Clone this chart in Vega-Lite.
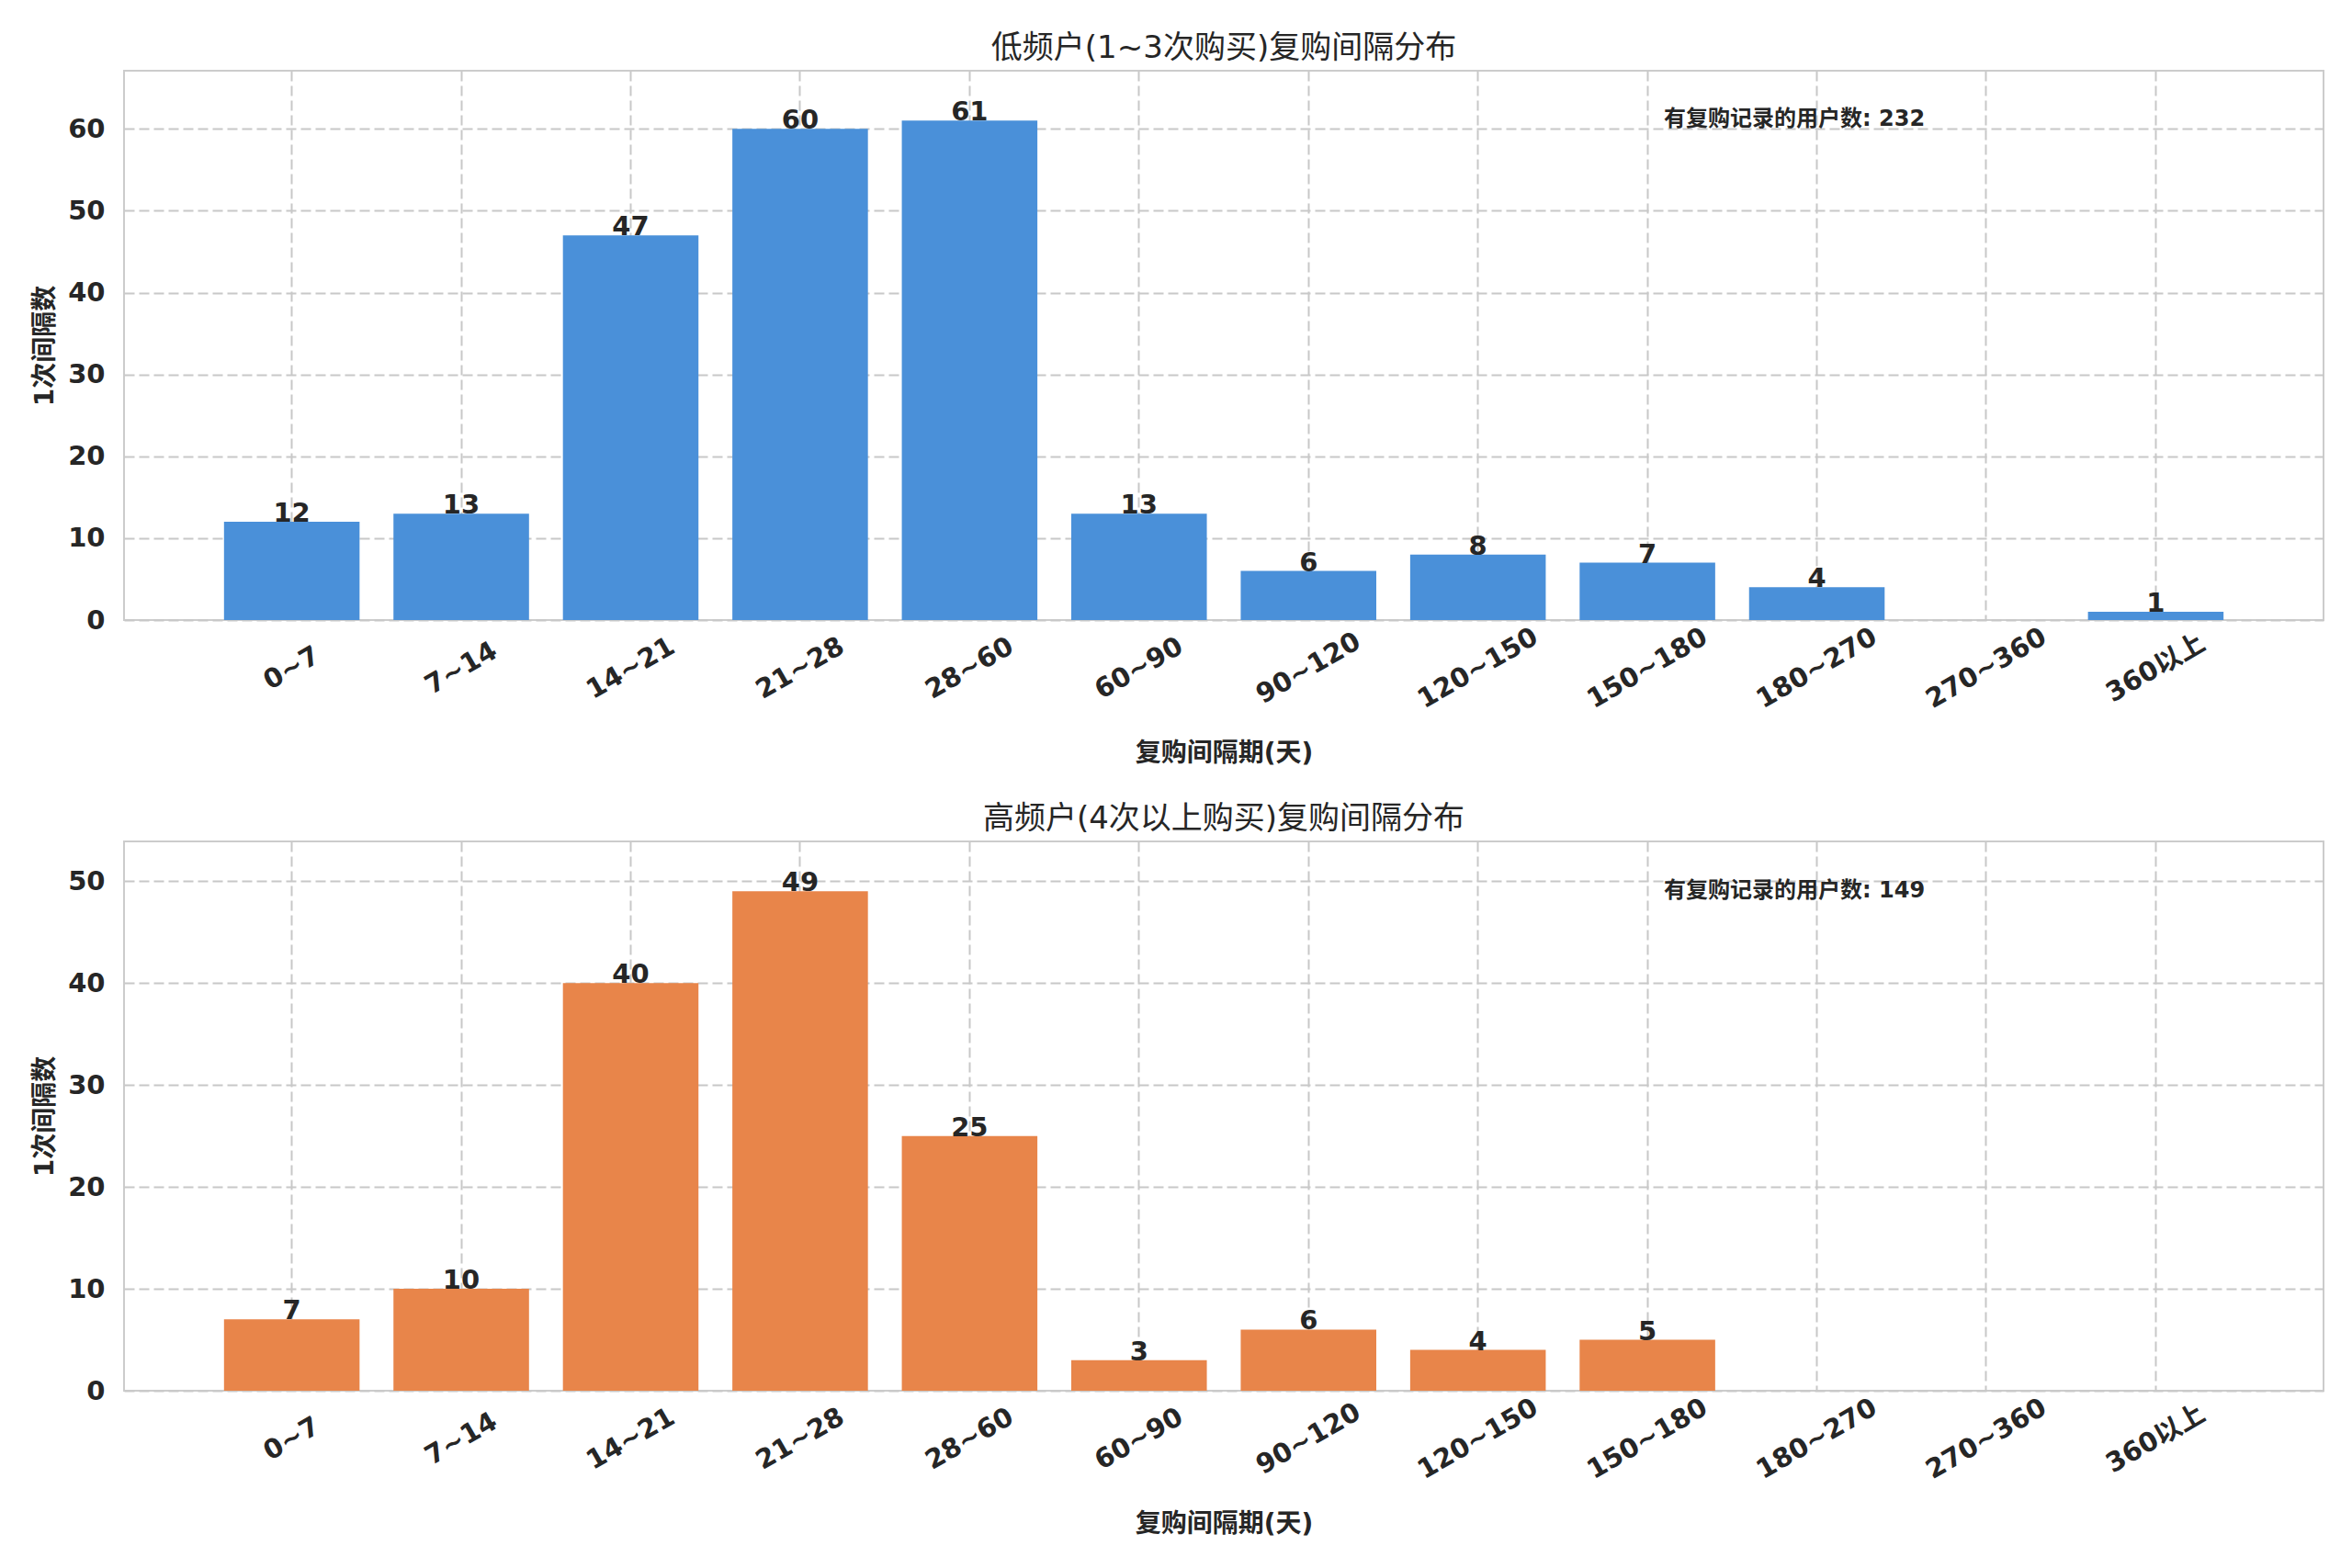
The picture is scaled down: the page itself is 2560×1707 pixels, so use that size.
{
  "$schema": "https://vega.github.io/schema/vega-lite/v6.json",
  "background": "#ffffff",
  "padding": {"left": 34, "top": 35, "right": 0, "bottom": 0},
  "bounds": "flush",
  "spacing": 241,
  "config": {
    "font": "DejaVu Sans, Noto Sans CJK SC",
    "view": {"stroke": "#cccccc", "strokeWidth": 2},
    "title": {"fontSize": 34, "fontWeight": "normal", "color": "#262626", "offset": 7, "anchor": "middle"},
    "axis": {
      "labelFontSize": 29, "labelFontWeight": "bold", "labelColor": "#262626",
      "titleFontSize": 28, "titleFontWeight": "bold", "titleColor": "#262626",
      "domain": false, "ticks": false, "tickSize": 0,
      "grid": true, "gridColor": "#c8c8c8", "gridDash": [11, 5], "gridWidth": 2
    },
    "axisX": {
      "labelAngle": -30, "labelAlign": "center", "labelBaseline": "middle", "labelPadding": 52,
      "bandPosition": 0.5, "titleY": 145, "titleBaseline": "middle"
    },
    "axisY": {
      "labelPadding": 21, "titleX": -86, "titleY": 299, "titleAngle": -90,
      "titleAlign": "center", "titleBaseline": "middle"
    }
  },
  "datasets": {
    "low": [
      {"bin": "0~7", "count": 12},
      {"bin": "7~14", "count": 13},
      {"bin": "14~21", "count": 47},
      {"bin": "21~28", "count": 60},
      {"bin": "28~60", "count": 61},
      {"bin": "60~90", "count": 13},
      {"bin": "90~120", "count": 6},
      {"bin": "120~150", "count": 8},
      {"bin": "150~180", "count": 7},
      {"bin": "180~270", "count": 4},
      {"bin": "270~360", "count": 0},
      {"bin": "360以上", "count": 1}
    ],
    "high": [
      {"bin": "0~7", "count": 7},
      {"bin": "7~14", "count": 10},
      {"bin": "14~21", "count": 40},
      {"bin": "21~28", "count": 49},
      {"bin": "28~60", "count": 25},
      {"bin": "60~90", "count": 3},
      {"bin": "90~120", "count": 6},
      {"bin": "120~150", "count": 4},
      {"bin": "150~180", "count": 5},
      {"bin": "180~270", "count": 0},
      {"bin": "270~360", "count": 0},
      {"bin": "360以上", "count": 0}
    ]
  },
  "vconcat": [
    {
      "width": 2394,
      "height": 598,
      "title": "低频户(1~3次购买)复购间隔分布",
      "data": {"name": "low"},
      "encoding": {
        "x": {
          "field": "bin", "type": "nominal", "sort": null,
          "scale": {
            "domain": ["0~7", "7~14", "14~21", "21~28", "28~60", "60~90", "90~120", "120~150", "150~180", "180~270", "270~360", "360以上"],
            "paddingInner": 0.2, "paddingOuter": 0.59
          },
          "axis": {"title": "复购间隔期(天)"}
        }
      },
      "layer": [
        {
          "mark": {"type": "bar", "color": "#4a90d9"},
          "encoding": {
            "y": {
              "field": "count", "type": "quantitative",
              "scale": {"domain": [0, 67.1], "nice": false},
              "axis": {"title": "1次间隔数", "values": [0, 10, 20, 30, 40, 50, 60]}
            }
          }
        },
        {
          "transform": [{"filter": "datum.count > 0"}],
          "mark": {"type": "text", "baseline": "alphabetic", "fontSize": 29, "fontWeight": "bold", "color": "#262626"},
          "encoding": {
            "y": {"field": "count", "type": "quantitative"},
            "text": {"field": "count", "type": "quantitative"}
          }
        },
        {
          "transform": [
            {"joinaggregate": [{"op": "sum", "field": "count", "as": "total"}]},
            {"filter": "datum.bin == '150~180'"},
            {"calculate": "'有复购记录的用户数: ' + datum.total", "as": "label"}
          ],
          "mark": {"type": "text", "align": "left", "baseline": "alphabetic", "dx": 18, "fontSize": 24, "fontWeight": "bold", "color": "#262626"},
          "encoding": {
            "y": {"datum": 60.4},
            "text": {"field": "label", "type": "nominal"}
          }
        }
      ]
    },
    {
      "width": 2394,
      "height": 598,
      "title": "高频户(4次以上购买)复购间隔分布",
      "data": {"name": "high"},
      "encoding": {
        "x": {
          "field": "bin", "type": "nominal", "sort": null,
          "scale": {
            "domain": ["0~7", "7~14", "14~21", "21~28", "28~60", "60~90", "90~120", "120~150", "150~180", "180~270", "270~360", "360以上"],
            "paddingInner": 0.2, "paddingOuter": 0.59
          },
          "axis": {"title": "复购间隔期(天)"}
        }
      },
      "layer": [
        {
          "mark": {"type": "bar", "color": "#e8854a"},
          "encoding": {
            "y": {
              "field": "count", "type": "quantitative",
              "scale": {"domain": [0, 53.9], "nice": false},
              "axis": {"title": "1次间隔数", "values": [0, 10, 20, 30, 40, 50]}
            }
          }
        },
        {
          "transform": [{"filter": "datum.count > 0"}],
          "mark": {"type": "text", "baseline": "alphabetic", "fontSize": 29, "fontWeight": "bold", "color": "#262626"},
          "encoding": {
            "y": {"field": "count", "type": "quantitative"},
            "text": {"field": "count", "type": "quantitative"}
          }
        },
        {
          "transform": [
            {"joinaggregate": [{"op": "sum", "field": "count", "as": "total"}]},
            {"filter": "datum.bin == '150~180'"},
            {"calculate": "'有复购记录的用户数: ' + datum.total", "as": "label"}
          ],
          "mark": {"type": "text", "align": "left", "baseline": "alphabetic", "dx": 18, "fontSize": 24, "fontWeight": "bold", "color": "#262626"},
          "encoding": {
            "y": {"datum": 48.4},
            "text": {"field": "label", "type": "nominal"}
          }
        }
      ]
    }
  ]
}
